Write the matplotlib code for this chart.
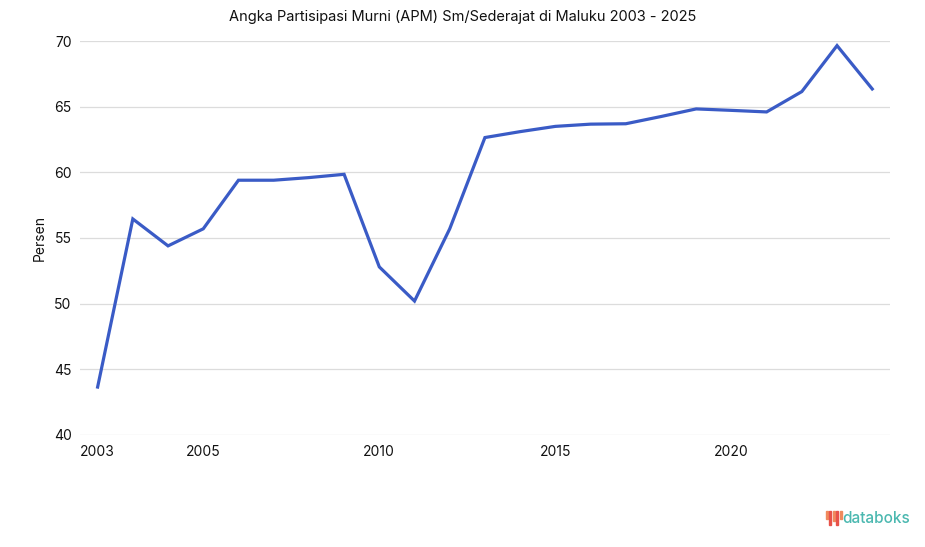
import matplotlib.pyplot as plt
from matplotlib.patches import Rectangle

plt.rcParams['font.family'] = ['Inter', 'DejaVu Sans']

# APM SM/sederajat Maluku, one value per point on the chart
apm = [43.65, 56.45, 54.4, 55.7, 59.4, 59.4, 59.6, 59.85, 52.8, 50.2, 55.7,
       62.65, 63.1, 63.5, 63.67, 63.7, 64.25, 64.83, 64.72, 64.6, 66.15,
       69.65, 66.35]
tick_pos = [0, 3, 8, 13, 18]
tick_labels = ['2003', '2005', '2010', '2015', '2020']
y_ticks = [40, 45, 50, 55, 60, 65, 70]

fig = plt.figure(figsize=(9.25, 5.47), dpi=100)
ax = fig.add_axes([0.0865, 0.2048, 0.8755, 0.7202])

ax.plot(range(len(apm)), apm, color='#3a5bc6', lw=2.3, solid_joinstyle='miter', zorder=3)

ax.set_xlim(-0.5, 22.5)
ax.set_ylim(40, 70)
ax.set_yticks(y_ticks)
ax.set_xticks(tick_pos)
ax.set_xticklabels(tick_labels)
ax.grid(axis='y', color='#dcdcdc', lw=0.9)
ax.tick_params(length=0, labelsize=10, colors='#111111')
ax.tick_params(axis='x', pad=7)
ax.tick_params(axis='y', pad=6)
for s in ax.spines.values():
    s.set_visible(False)
ax.set_ylabel('Persen', fontsize=10, color='#111111', labelpad=5)

fig.text(0.5, 0.982, 'Angka Partisipasi Murni (APM) Sm/Sederajat di Maluku 2003 - 2025',
         ha='center', va='top', fontsize=10.5, color='#111111')

# databoks logo
fig.text(0.984, 0.052, 'databoks', ha='right', va='center', fontsize=11,
         color='#4bb8b0', fontweight='medium')
bar_cols = ['#f08a5d', '#e8524a', '#f08a5d', '#e8524a', '#f08a5d']
bar_h = [0.014, 0.026, 0.018, 0.026, 0.014]
bar_y = [0.052, 0.040, 0.048, 0.040, 0.052]
for i, (c, h, y0) in enumerate(zip(bar_cols, bar_h, bar_y)):
    fig.patches.append(Rectangle((0.893 + i * 0.0037, y0), 0.0022, h,
                                 transform=fig.transFigure, color=c))

fig.savefig('out.png', dpi=100)
